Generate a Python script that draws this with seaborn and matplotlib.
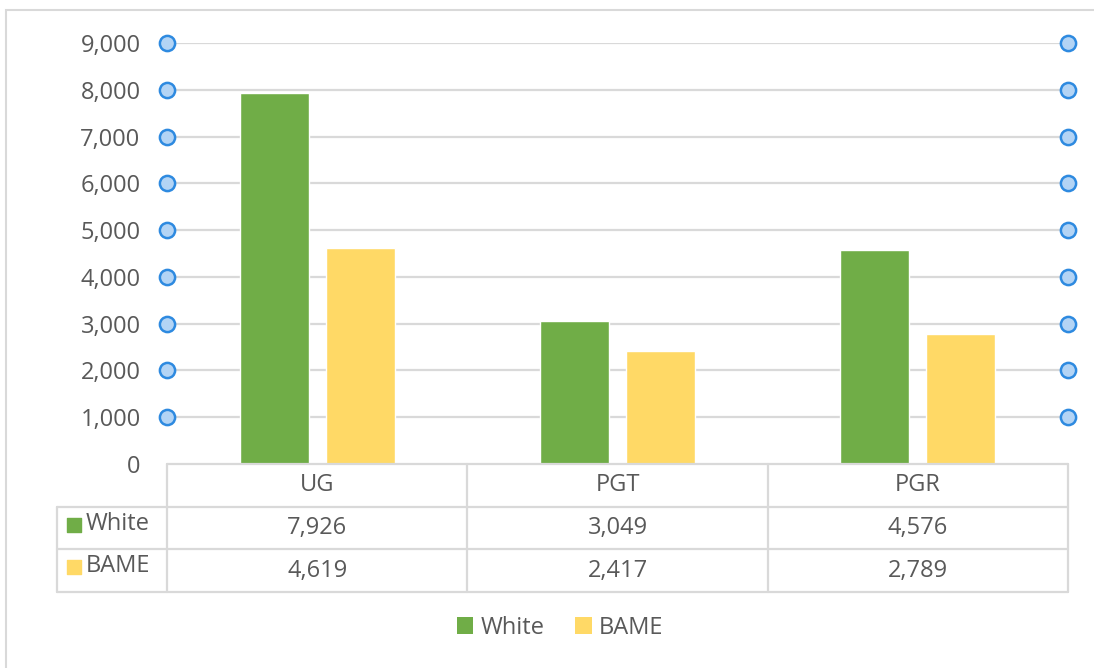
import matplotlib
matplotlib.use("Agg")
import matplotlib.pyplot as plt
from matplotlib.patches import Patch, Rectangle
import numpy as np
import pandas as pd
import seaborn as sns

# Enrolment counts by level of study and ethnicity
levels = ["UG", "PGT", "PGR"]
groups = ["White", "BAME"]
white_counts = [7926, 3049, 4576]
bame_counts = [4619, 2417, 2789]
y_ticks = [0, 1000, 2000, 3000, 4000, 5000, 6000, 7000, 8000, 9000]

colors = {"White": "#70AD47", "BAME": "#FFD966"}
text_color = "#595959"
grid_color = "#D9D9D9"
fs = 17

df = pd.DataFrame({
    "Level": levels * 2,
    "Group": ["White"] * 3 + ["BAME"] * 3,
    "Count": white_counts + bame_counts,
})

sns.set_theme(style="white")
plt.rcParams["font.family"] = ["Open Sans", "DejaVu Sans"]

W, H = 1094, 668
fig = plt.figure(figsize=(W / 100, H / 100), dpi=100)

def px_rect(x0, y0, x1, y1):
    return [x0 / W, 1 - y1 / H, (x1 - x0) / W, (y1 - y0) / H]

# Outer chart frame
fig.patches.append(Rectangle((6 / W, -0.1), 1.2, 1 - 10 / H + 0.1,
                             transform=fig.transFigure, fill=False,
                             edgecolor=grid_color, linewidth=1.5))

ax = fig.add_axes(px_rect(167, 43, 1068, 464))
sns.barplot(data=df, x="Level", y="Count", hue="Group", order=levels,
            hue_order=groups, palette=colors, width=0.573, gap=0.2,
            saturation=1, legend=False, ax=ax)
ax.set_xlim(-0.5, len(levels) - 0.5)
ax.set_ylim(y_ticks[0], y_ticks[-1])
ax.set_yticks(y_ticks)
ax.set_yticklabels([f"{v:,}" for v in y_ticks], color=text_color, fontsize=fs)
ax.tick_params(axis="y", length=0, pad=19)
ax.set_xticks([])
ax.set_xlabel("")
ax.set_ylabel("")
for s in ax.spines.values():
    s.set_visible(False)
ax.set_axisbelow(True)
for v in y_ticks[1:]:
    ax.axhline(v, color=grid_color, linewidth=1.6, zorder=0)

# Gridline end handles
handle_y = np.array(y_ticks[1:])
for xe in ax.get_xlim():
    ax.scatter(np.full(len(handle_y), xe), handle_y, s=120, facecolor="#B3D4F5",
               edgecolor="#2E8AE0", linewidth=1.8, zorder=5, clip_on=False)

# Data table under the plot
label_w = 110 / 300.33
tax = fig.add_axes(px_rect(57, 464, 1068, 592))
x0 = -0.5 - label_w
x_end = len(levels) - 0.5
tax.set_xlim(x0, x_end)
tax.set_ylim(3, 0)
tax.axis("off")
lc = dict(color=grid_color, linewidth=1.6, clip_on=False)
tax.plot([-0.5, x_end], [0, 0], **lc)
for r in (1, 2, 3):
    tax.plot([x0, x_end], [r, r], **lc)
for c in np.arange(-0.5, x_end + 0.01, 1.0):
    tax.plot([c, c], [0, 3], **lc)
tax.plot([x0, x0], [1, 3], **lc)

for i, lvl in enumerate(levels):
    tax.text(i, 0.5, lvl, ha="center", va="center", color=text_color, fontsize=fs)
for r, (g, vals) in enumerate(zip(groups, [white_counts, bame_counts]), start=1):
    for i, v in enumerate(vals):
        tax.text(i, r + 0.5, f"{v:,}", ha="center", va="center",
                 color=text_color, fontsize=fs)
    tax.scatter([x0 + 0.055], [r + 0.42], marker="s", s=110, color=colors[g],
                clip_on=False)
    tax.text(x0 + 0.095, r + 0.40, g, ha="left", va="center",
             color=text_color, fontsize=fs)

# Legend
handles = [Patch(facecolor=colors[g], edgecolor="none", label=g) for g in groups]
fig.legend(handles=handles, loc="center", bbox_to_anchor=(560 / W, 1 - 628 / H),
           ncol=2, frameon=False, handlelength=0.7, handleheight=0.7,
           handletextpad=0.3, columnspacing=1.3,
           prop={"family": ["Open Sans", "DejaVu Sans"], "size": fs},
           labelcolor=text_color)

fig.savefig("out.png", dpi=100)
